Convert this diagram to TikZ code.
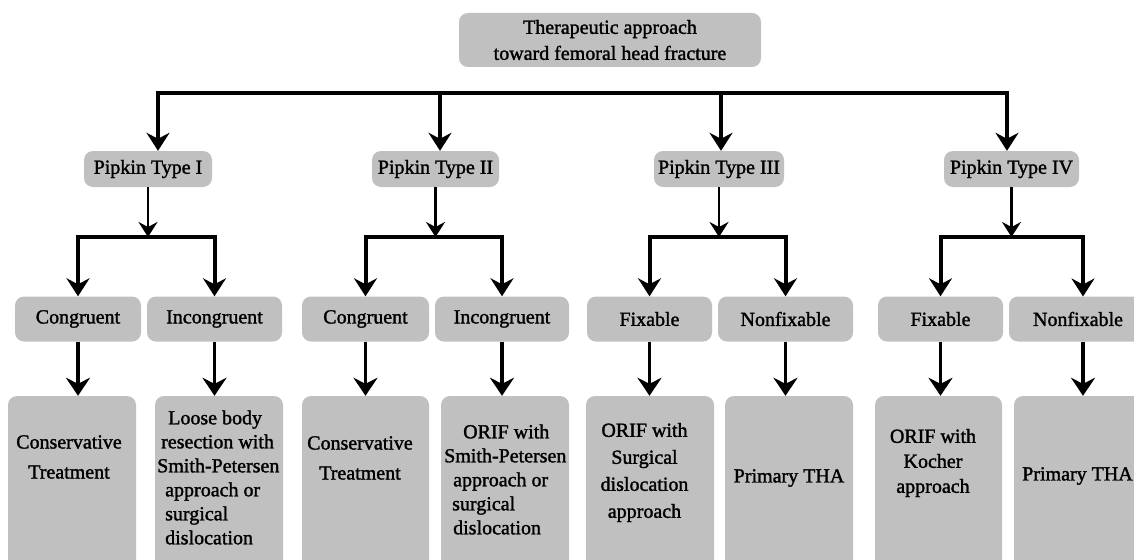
\documentclass[tikz,border=0pt]{standalone}
\usepackage{fontspec}
\setmainfont{Liberation Serif}[UprightFeatures={FakeBold=1.5}]
\usetikzlibrary{arrows.meta}
\definecolor{boxgray}{RGB}{192,192,192}
\tikzset{
  box/.style={fill=boxgray, rounded corners=9pt, inner sep=0pt, font=\fontsize{20}{24}\selectfont},
  txt/.style={inner sep=0pt, font=\fontsize{20}{24}\selectfont},
  bigline/.style={line width=4pt},
  bigtip/.tip={Stealth[length=18pt,width=23pt,inset=6pt]},
  midtip/.tip={Stealth[length=15pt,width=19pt,inset=5pt]},
  leaftip/.tip={Stealth[length=18pt,width=24pt,inset=6pt]},
}
\begin{document}
\begin{tikzpicture}[x=1pt,y=-1pt]
\useasboundingbox (0,0) rectangle (1134,559);
\clip (0,0) rectangle (1134,559);
% top
\node[box, minimum width=302pt, minimum height=54pt, align=center, font=\fontsize{20}{26}\selectfont] (top) at (610,40) {Therapeutic approach\\toward femoral head fracture};
% level 1
\node[box, minimum width=128pt, minimum height=36pt] (p1) at (148,169) {Pipkin Type I};
\node[box, minimum width=127pt, minimum height=36pt] (p2) at (435.5,169) {Pipkin Type II};
\node[box, minimum width=130pt, minimum height=36pt] (p3) at (719,169) {Pipkin Type III};
\node[box, minimum width=135pt, minimum height=36pt] (p4) at (1011.5,169) {Pipkin Type IV};
% level 2
\node[box, minimum width=126pt, minimum height=45pt] (c1) at (78,319) {Congruent};
\node[box, minimum width=135pt, minimum height=45pt] (c2) at (214.5,319) {Incongruent};
\node[box, minimum width=127pt, minimum height=45pt] (c3) at (365.5,319) {Congruent};
\node[box, minimum width=134pt, minimum height=45pt] (c4) at (502,319) {Incongruent};
\node[box, minimum width=125pt, minimum height=45pt] (c5) at (649.5,319) {Fixable};
\node[box, minimum width=135pt, minimum height=45pt] (c6) at (785.5,319) {Nonfixable};
\node[box, minimum width=125pt, minimum height=45pt] (c7) at (940.5,319) {Fixable};
\node[box, minimum width=138pt, minimum height=45pt] (c8) at (1078,319) {Nonfixable};
% level 3 boxes
\node[box, minimum width=128pt, minimum height=220pt] (l1) at (72,506) {};
\node[box, minimum width=128pt, minimum height=220pt] (l2) at (219,506) {};
\node[box, minimum width=127pt, minimum height=220pt] (l3) at (365.5,506) {};
\node[box, minimum width=128pt, minimum height=220pt] (l4) at (505,506) {};
\node[box, minimum width=128pt, minimum height=220pt] (l5) at (650,506) {};
\node[box, minimum width=128pt, minimum height=220pt] (l6) at (789,506) {};
\node[box, minimum width=127pt, minimum height=220pt] (l7) at (938.5,506) {};
\node[box, minimum width=128pt, minimum height=220pt] (l8) at (1078,506) {};
% leaf texts
\node[txt, align=center, font=\fontsize{20}{30}\selectfont] (t1) at (69,457) {Conservative\\Treatment};
\node[txt, align=left, anchor=west] (t2) at (157,477.5) {\hspace*{11pt}Loose body\\\hspace*{4pt}resection with\\Smith-Petersen\\\hspace*{8pt}approach or\\\hspace*{8pt}surgical\\\hspace*{8pt}dislocation};
\node[txt, align=center, font=\fontsize{20}{30}\selectfont] (t3) at (360,458) {Conservative\\Treatment};
\node[txt, align=left, anchor=west] (t4) at (444,479.5) {\hspace*{19pt}ORIF with\\Smith-Petersen\\\hspace*{9pt}approach or\\\hspace*{8pt}surgical\\\hspace*{9pt}dislocation};
\node[txt, align=center, font=\fontsize{20}{27}\selectfont] (t5) at (644.5,472.5) {ORIF with\\Surgical\\dislocation\\approach};
\node[txt] (t6) at (789,478) {Primary THA};
\node[txt, align=center, font=\fontsize{20}{25}\selectfont] (t7) at (933,463) {ORIF with\\Kocher\\approach};
\node[txt] (t8) at (1077.5,476) {Primary THA};
% top bar
\coordinate (d1) at (158,93);
\coordinate (d2) at (440,93);
\coordinate (d3) at (721,93);
\coordinate (d4) at (1007,93);
\draw[bigline, bigtip-bigtip] (d1 |- p1.north) -- (d1) -- (d4) -- (d4 |- p4.north);
\draw[bigline, -bigtip] (d2) -- (d2 |- p2.north);
\draw[bigline, -bigtip] (d3) -- (d3 |- p3.north);
% second level bars
\coordinate (q1) at (148,237);
\coordinate (q2) at (435.5,237);
\coordinate (q3) at (719,237);
\coordinate (q4) at (1011.5,237);
\coordinate (c8top) at (1083,296.5);
\foreach \p/\q in {p1/q1,p2/q2,p3/q3,p4/q4}
  \draw[line width=2.5pt, -midtip] (\p.south) -- (\q);
\draw[bigline, bigtip-bigtip] (c1.north) -- (c1.north |- q1) -- (c2.north |- q1) -- (c2.north);
\draw[bigline, bigtip-bigtip] (c3.north) -- (c3.north |- q2) -- (c4.north |- q2) -- (c4.north);
\draw[bigline, bigtip-bigtip] (c5.north) -- (c5.north |- q3) -- (c6.north |- q3) -- (c6.north);
\draw[bigline, bigtip-bigtip] (c7.north) -- (c7.north |- q4) -- (c8top |- q4) -- (c8top);
% level 3 -> 4
\foreach \c/\l in {c1/l1,c2/l2,c3/l3,c4/l4,c5/l5,c6/l6,c7/l7}
  \draw[line width=3.2pt, -leaftip] (\c.south) -- (\c.south |- \l.north);
\draw[line width=3.2pt, -leaftip] (c8top |- c8.south) -- (c8top |- l8.north);
\end{tikzpicture}
\end{document}
